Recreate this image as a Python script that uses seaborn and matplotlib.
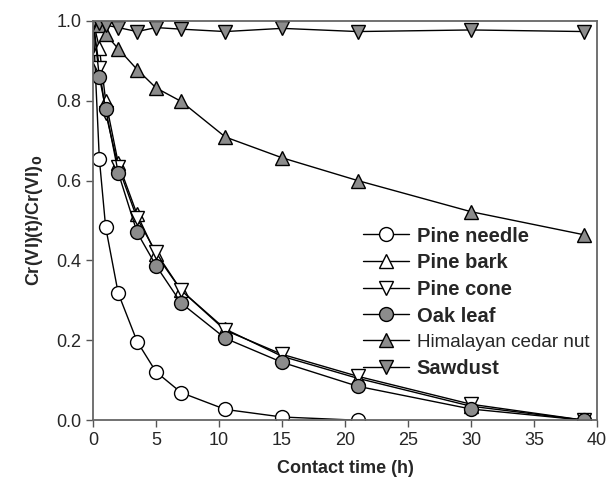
import pandas as pd
import seaborn as sns
import matplotlib.pyplot as plt
from matplotlib.lines import Line2D

# Dados
time = [0, 0.5, 1, 2, 3.5, 5, 7, 10.5, 15, 21, 30, 39]
time_needle = [0, 0.5, 1, 2, 3.5, 5, 7, 10.5, 15, 21]

pine_needle = [1.0, 0.655, 0.484, 0.318, 0.197, 0.121, 0.069, 0.027, 0.008, 0.0]
pine_bark = [1.0, 0.933, 0.80, 0.644, 0.515, 0.415, 0.325, 0.228, 0.16, 0.105, 0.035, 0.0]
pine_cone = [1.0, 0.882, 0.77, 0.635, 0.505, 0.42, 0.325, 0.225, 0.165, 0.11, 0.04, 0.0]
oak_leaf = [1.0, 0.86, 0.78, 0.62, 0.47, 0.387, 0.293, 0.205, 0.145, 0.085, 0.028, 0.0]
cedar_nut = [1.0, 0.99, 0.966, 0.93, 0.878, 0.832, 0.798, 0.709, 0.657, 0.60, 0.522, 0.464]
sawdust = [1.0, 0.995, 0.989, 0.983, 0.973, 0.983, 0.979, 0.973, 0.981, 0.973, 0.977, 0.973]

labels = ['Pine needle', 'Pine bark', 'Pine cone', 'Oak leaf',
          'Himalayan cedar nut', 'Sawdust']

grey = '#8c8c8c'
series = [
    (time_needle, pine_needle, 'o', 'white'),
    (time, pine_bark, '^', 'white'),
    (time, pine_cone, 'v', 'white'),
    (time, oak_leaf, 'o', grey),
    (time, cedar_nut, '^', grey),
    (time, sawdust, 'v', grey),
]

sns.set_style('ticks')
plt.rcParams['font.family'] = ['Liberation Sans', 'DejaVu Sans']

fig = plt.figure(figsize=(6.08, 4.83), dpi=100)
ax = fig.add_axes([0.153, 0.130, 0.829, 0.827])

handles = []
for (t, y, m, fc), lab in zip(series, labels):
    df = pd.DataFrame({'t': t, 'y': y})
    sns.lineplot(data=df, x='t', y='y', ax=ax, color='black', lw=1,
                 marker=m, markersize=10, markerfacecolor=fc,
                 markeredgecolor='black', markeredgewidth=1)
    handles.append(Line2D([], [], color='black', lw=1, marker=m, markersize=10,
                          markerfacecolor=fc, markeredgecolor='black'))

ax.set_xlim(0, 40)
ax.set_ylim(0, 1.0)
ax.set_xticks(range(0, 41, 5))
ax.set_yticks([0, 0.2, 0.4, 0.6, 0.8, 1.0])
ax.set_yticklabels(['0.0', '0.2', '0.4', '0.6', '0.8', '1.0'])
ax.tick_params(labelsize=13, direction='out', length=5, width=1, color='#555555')
for s in ax.spines.values():
    s.set_color('#666666')
    s.set_linewidth(1.3)

ax.set_xlabel('Contact time (h)', fontsize=13, fontweight='bold', labelpad=8)
ax.set_ylabel('Cr(VI)(t)/Cr(VI)$_\\mathbf{0}$', fontsize=13, fontweight='bold', labelpad=8)

leg = ax.legend(handles, labels, loc='upper left', bbox_to_anchor=(0.52, 0.505),
                frameon=False, prop={'size': 14.5, 'weight': 'bold'},
                handlelength=2.3, handletextpad=0.35, labelspacing=0.38,
                borderaxespad=0)
txt = leg.get_texts()[4]
txt.set_fontweight('normal')
txt.set_fontsize(13.6)

plt.savefig('out.png', dpi=100)
